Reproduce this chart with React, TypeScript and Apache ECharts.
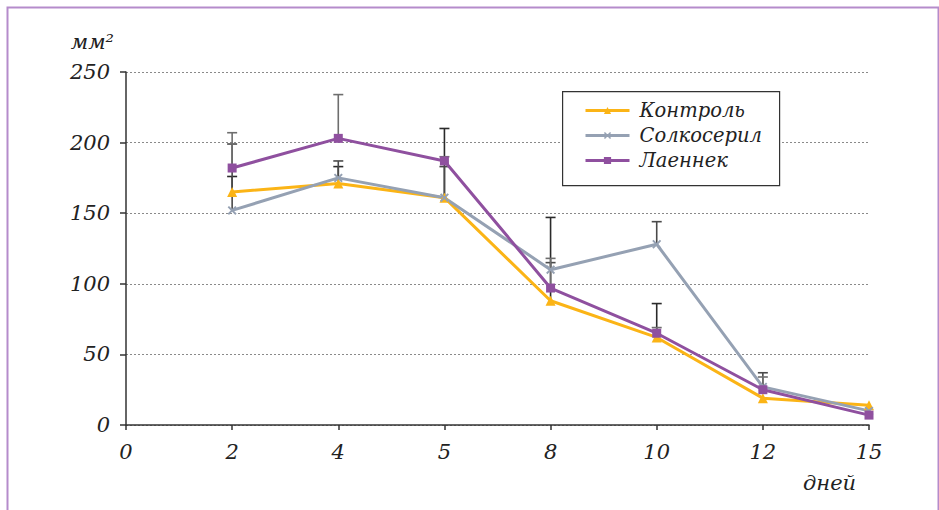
import React, { useEffect, useRef } from "react";
import * as echarts from "echarts";

const categories = ["0", "2", "4", "5", "8", "10", "12", "15"];
const seriesNames = ["Контроль", "Солкосерил", "Лаеннек"];
const kontrol = [null, 165, 171, 161, 88, 62, 19, 14];
const solko = [null, 152, 175, 161, 110, 128, 27, 10];
const laennek = [null, 182, 203, 187, 97, 65, 25, 7];
const kontrolErrTop = [null, 176, 183, 210, 147, 86, null, null];
const solkoErrTop = [null, 199, 187, 183, 115, 144, 37, null];
const laennekErrTop = [null, 207, 234, 190, 118, 69, 34, null];
const yTicks = { min: 0, max: 250, interval: 50 };
const yName = "мм²";
const xName = "дней";

const colors = ["#fbb416", "#95a1b3", "#8f509f"];
const errColors = ["#2a2a2a", "#4a4a4a", "#6e6e6e"];
const FONT = "DejaVu Serif";
const CROSS =
  "path://M0,1.5L1.5,0L5,3.5L8.5,0L10,1.5L6.5,5L10,8.5L8.5,10L5,6.5L1.5,10L0,8.5L3.5,5Z";

function errData(vals: (number | null)[], tops: (number | null)[]) {
  const out: any[] = [];
  vals.forEach((v, i) => {
    const t = tops[i];
    if (v != null && t != null) out.push([i, v, t]);
  });
  return out;
}

function errSeries(name: string, vals: any[], tops: any[], color: string) {
  return {
    type: "custom",
    name: name + " err",
    z: 1,
    silent: true,
    data: errData(vals, tops),
    encode: { x: 0, y: [1, 2] },
    renderItem: (params: any, api: any) => {
      const x = api.value(0);
      const lo = api.coord([x, api.value(1)]);
      const hi = api.coord([x, api.value(2)]);
      const w = 5;
      const st = { stroke: color, lineWidth: 1.6 };
      return {
        type: "group",
        children: [
          { type: "line", shape: { x1: lo[0], y1: lo[1], x2: hi[0], y2: hi[1] }, style: st },
          { type: "line", shape: { x1: hi[0] - w, y1: hi[1], x2: hi[0] + w, y2: hi[1] }, style: st },
        ],
      };
    },
  };
}

export default function App() {
  const ref = useRef<HTMLDivElement>(null);
  useEffect(() => {
    if (!ref.current) return;
    const chart = echarts.init(ref.current, null, { renderer: "svg" });
    const lineData = [kontrol, solko, laennek];
    const symbols = ["triangle", CROSS, "rect"];
    const symbolSizes = [10, 9, 9];
    chart.setOption({
      animation: false,
      backgroundColor: "#fff",
      textStyle: { fontFamily: FONT },
      grid: { left: 126, right: 70, top: 72, bottom: 85, containLabel: false },
      legend: {
        data: seriesNames,
        orient: "vertical",
        left: 584,
        top: 98,
        z: 10,
        itemGap: 0,
        itemWidth: 44,
        itemHeight: 9,
        padding: 0,
        lineStyle: { width: 3 },
        textStyle: {
          fontFamily: FONT,
          fontStyle: "italic",
          fontSize: 19.5,
          lineHeight: 25,
          color: "#222",
          padding: [0, 0, 0, 5],
        },
      },
      xAxis: {
        type: "category",
        data: categories,
        boundaryGap: false,
        axisLine: { show: true, lineStyle: { color: "#333", width: 1.5 } },
        axisTick: { show: true, length: 5, inside: false, lineStyle: { color: "#333", width: 1.5 } },
        axisLabel: {
          margin: 16,
          fontFamily: FONT,
          fontStyle: "italic",
          fontSize: 21,
          color: "#222",
        },
        splitLine: { show: false },
      },
      yAxis: {
        type: "value",
        min: yTicks.min,
        max: yTicks.max,
        interval: yTicks.interval,
        name: yName,
        nameLocation: "end",
        nameGap: 20,
        nameTextStyle: {
          fontFamily: FONT,
          fontStyle: "italic",
          fontSize: 21,
          color: "#222",
          align: "right",
          padding: [0, 12, 0, 0],
        },
        axisLine: { show: true, lineStyle: { color: "#333", width: 1.5 } },
        axisTick: { show: true, length: 6, lineStyle: { color: "#333", width: 1.5 } },
        axisLabel: {
          margin: 16,
          fontFamily: FONT,
          fontStyle: "italic",
          fontSize: 21,
          color: "#222",
        },
        splitLine: { show: true, lineStyle: { color: "#8a8a8a", type: [2, 2], width: 1 } },
      },
      graphic: [
        {
          type: "rect",
          left: 5,
          top: 5,
          shape: { width: 931, height: 520 },
          style: { fill: "none", stroke: "#b58ccb", lineWidth: 2 },
          z: 0,
        },
        {
          type: "rect",
          left: 562,
          top: 91,
          shape: { width: 217, height: 94 },
          style: { fill: "#fff", stroke: "#333", lineWidth: 1.2 },
          z: 2,
        },
        {
          type: "text",
          left: 803,
          top: 472,
          style: {
            text: xName,
            font: "italic 21px '" + FONT + "'",
            fill: "#222",
          },
        },
      ],
      series: [
        errSeries(seriesNames[0], kontrol, kontrolErrTop, errColors[0]),
        errSeries(seriesNames[1], solko, solkoErrTop, errColors[1]),
        errSeries(seriesNames[2], laennek, laennekErrTop, errColors[2]),
        ...seriesNames.map((n, i) => ({
          type: "line",
          name: n,
          data: lineData[i],
          z: 3,
          symbol: symbols[i],
          symbolSize: symbolSizes[i],
          showAllSymbol: true,
          connectNulls: false,
          itemStyle: { color: colors[i] },
          lineStyle: { color: colors[i], width: 3 },
        })),
      ],
    });
    return () => chart.dispose();
  }, []);
  return (
    <div
      ref={ref}
      style={{ position: "fixed", left: 0, top: 0, width: 939, height: 510 }}
    />
  );
}
